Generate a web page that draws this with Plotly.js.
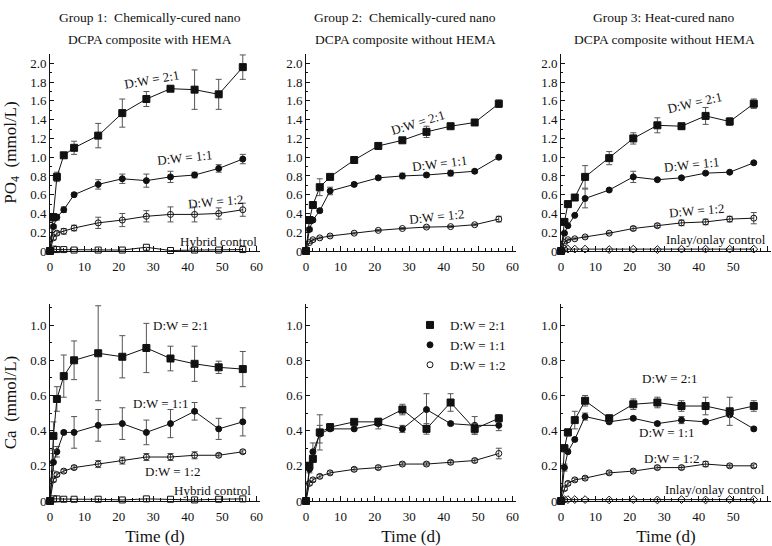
<!DOCTYPE html>
<html>
<head>
<meta charset="utf-8">
<script src="https://cdn.plot.ly/plotly-3.0.1.min.js"></script>
<style>html,body{margin:0;padding:0;background:#fff;}#chart{width:772px;height:546px;}</style>
</head>
<body>
<div id="chart"></div>
<script>
// ---- data ----
const days = [0, 1, 2, 4, 7, 14, 21, 28, 35, 42, 49, 56];

// Group 1 PO4
const g1Po4_21 = [0, 0.36, 0.79, 1.02, 1.10, 1.23, 1.47, 1.62, 1.73, 1.72, 1.67, 1.96];
const g1Po4_21e = [0, 0.04, 0.05, 0.02, 0.07, 0.13, 0.15, 0.08, 0.02, 0.21, 0.16, 0.13];
const g1Po4_11 = [0, 0.26, 0.36, 0.44, 0.60, 0.71, 0.77, 0.75, 0.79, 0.81, 0.88, 0.98];
const g1Po4_11e = [0, 0.02, 0.03, 0.03, 0.02, 0.05, 0.05, 0.07, 0.06, 0.03, 0.04, 0.05];
const g1Po4_12 = [0, 0.14, 0.19, 0.21, 0.245, 0.30, 0.33, 0.37, 0.39, 0.39, 0.40, 0.44];
const g1Po4_12e = [0, 0.02, 0.02, 0.03, 0.03, 0.06, 0.07, 0.06, 0.08, 0.08, 0.06, 0.07];
const g1Po4_ctrl = [0, 0.02, 0.015, 0.015, 0.01, 0.01, 0.01, 0.04, 0.005, 0.01, 0.01, 0.015];

// Group 2 PO4
const g2Po4_21 = [0, 0.33, 0.49, 0.68, 0.79, 0.97, 1.12, 1.18, 1.27, 1.33, 1.37, 1.57];
const g2Po4_21e = [0, 0.03, 0.03, 0.09, 0.02, 0.02, 0.03, 0.02, 0.06, 0.02, 0.02, 0.04];
const g2Po4_11 = [0, 0.23, 0.33, 0.43, 0.64, 0.71, 0.78, 0.80, 0.81, 0.83, 0.85, 1.00];
const g2Po4_11e = [0, 0.02, 0.02, 0.02, 0.04, 0.02, 0.02, 0.03, 0.02, 0.03, 0.02, 0.02];
const g2Po4_12 = [0, 0.09, 0.12, 0.14, 0.16, 0.19, 0.22, 0.24, 0.255, 0.26, 0.28, 0.34];
const g2Po4_12e = [0, 0.01, 0.01, 0.01, 0.01, 0.01, 0.01, 0.01, 0.01, 0.01, 0.01, 0.03];

// Group 3 PO4
const g3Po4_21 = [0, 0.31, 0.50, 0.57, 0.79, 0.99, 1.20, 1.34, 1.33, 1.44, 1.38, 1.57];
const g3Po4_21e = [0, 0.03, 0.03, 0.03, 0.12, 0.07, 0.06, 0.08, 0.03, 0.09, 0.04, 0.05];
const g3Po4_11 = [0, 0.19, 0.27, 0.38, 0.56, 0.65, 0.79, 0.76, 0.78, 0.83, 0.84, 0.94];
const g3Po4_11e = [0, 0.01, 0.01, 0.01, 0.10, 0.01, 0.06, 0.01, 0.01, 0.01, 0.01, 0.01];
const g3Po4_12 = [0, 0.09, 0.12, 0.13, 0.15, 0.19, 0.24, 0.27, 0.30, 0.31, 0.34, 0.35];
const g3Po4_12e = [0, 0.01, 0.01, 0.01, 0.01, 0.01, 0.02, 0.02, 0.03, 0.03, 0.03, 0.06];
const g3Po4_ctrl = [0, 0.02, 0.02, 0.02, 0.02, 0.015, 0.02, 0.015, 0.02, 0.02, 0.02, 0.02];

// Group 1 Ca
const g1Ca_21 = [0, 0.37, 0.58, 0.71, 0.80, 0.84, 0.82, 0.87, 0.81, 0.78, 0.76, 0.75];
const g1Ca_21e = [0, 0.08, 0.07, 0.12, 0.11, 0.27, 0.12, 0.14, 0.07, 0.10, 0.035, 0.10];
const g1Ca_11 = [0, 0.22, 0.28, 0.39, 0.39, 0.43, 0.44, 0.39, 0.44, 0.51, 0.41, 0.45];
const g1Ca_11e = [0, 0.05, 0.03, 0.01, 0.09, 0.09, 0.09, 0.07, 0.08, 0.05, 0.06, 0.08];
const g1Ca_12 = [0, 0.12, 0.15, 0.17, 0.19, 0.21, 0.23, 0.25, 0.25, 0.26, 0.26, 0.28];
const g1Ca_12e = [0, 0.01, 0.01, 0.01, 0.01, 0.02, 0.02, 0.02, 0.02, 0.02, 0.01, 0.01];
const g1Ca_ctrl = [0, 0.012, 0.012, 0.01, 0.01, 0.01, 0.006, 0.012, 0.01, 0.006, 0.01, 0.012];

// Group 2 Ca
const g2Ca_21 = [0, 0.20, 0.24, 0.39, 0.42, 0.45, 0.45, 0.52, 0.41, 0.56, 0.41, 0.47];
const g2Ca_21e = [0, 0.02, 0.02, 0.10, 0.02, 0.01, 0.02, 0.03, 0.03, 0.05, 0.03, 0.02];
const g2Ca_11 = [0, 0.18, 0.28, 0.38, 0.41, 0.41, 0.44, 0.41, 0.52, 0.44, 0.43, 0.43];
const g2Ca_11e = [0, 0.02, 0.05, 0.05, 0.01, 0.01, 0.03, 0.02, 0.09, 0.01, 0.05, 0.03];
const g2Ca_12 = [0, 0.10, 0.12, 0.14, 0.16, 0.18, 0.19, 0.21, 0.21, 0.22, 0.23, 0.27];
const g2Ca_12e = [0, 0.01, 0.01, 0.01, 0.01, 0.01, 0.01, 0.01, 0.01, 0.01, 0.01, 0.03];

// Group 3 Ca
const g3Ca_21 = [0, 0.30, 0.39, 0.46, 0.57, 0.47, 0.55, 0.56, 0.54, 0.54, 0.51, 0.54];
const g3Ca_21e = [0, 0.02, 0.02, 0.05, 0.03, 0.02, 0.03, 0.03, 0.03, 0.05, 0.08, 0.03];
const g3Ca_11 = [0, 0.19, 0.28, 0.35, 0.48, 0.45, 0.47, 0.44, 0.46, 0.45, 0.49, 0.41];
const g3Ca_11e = [0, 0.02, 0.01, 0.01, 0.02, 0.01, 0.01, 0.01, 0.02, 0.01, 0.01, 0.01];
const g3Ca_12 = [0, 0.07, 0.10, 0.12, 0.13, 0.16, 0.17, 0.19, 0.19, 0.21, 0.20, 0.20];
const g3Ca_12e = [0, 0.01, 0.01, 0.01, 0.01, 0.01, 0.01, 0.01, 0.01, 0.015, 0.01, 0.01];
const g3Ca_ctrl = [0, 0.008, 0.008, 0.008, 0.008, 0.006, 0.008, 0.006, 0.008, 0.006, 0.008, 0.008];

// tick labels
const xTickVals = [0, 10, 20, 30, 40, 50, 60];
const xTickText = ['0', '10', '20', '30', '40', '50', '60'];
const po4TickVals = [0, 0.2, 0.4, 0.6, 0.8, 1.0, 1.2, 1.4, 1.6, 1.8, 2.0];
const po4TickText = ['0', '0.2', '0.4', '0.6', '0.8', '1.0', '1.2', '1.4', '1.6', '1.8', '2.0'];
const caTickVals = [0, 0.2, 0.4, 0.6, 0.8, 1.0];
const caTickText = ['0', '0.2', '0.4', '0.6', '0.8', '1.0'];

const groupTitles = [
  ['Group 1:  Chemically-cured nano', 'DCPA composite with HEMA'],
  ['Group 2:  Chemically-cured nano', 'DCPA composite without HEMA'],
  ['Group 3: Heat-cured nano', 'DCPA composite without HEMA']
];
const seriesNames = ['D:W = 2:1', 'D:W = 1:1', 'D:W = 1:2'];

// ---- styles ----
const FONT = 'Liberation Serif, Times New Roman, serif';
const sym = {
  r21: {symbol: 'square', size: 7, color: '#111', line: {color: '#111', width: 1}},
  r11: {symbol: 'circle', size: 6, color: '#111', line: {color: '#111', width: 1}},
  r12: {symbol: 'circle-open', size: 6, color: '#111', line: {color: '#111', width: 1}},
  hyb: {symbol: 'square-open', size: 6, color: '#111', line: {color: '#111', width: 1}},
  inl: {symbol: 'diamond-open', size: 6, color: '#111', line: {color: '#111', width: 1}}
};

function series(y, err, marker, xa, ya, name) {
  const t = {
    x: days, y: y, xaxis: xa, yaxis: ya, name: name || 'series',
    mode: 'lines+markers', type: 'scatter', showlegend: false, cliponaxis: false,
    line: {color: '#111', width: 1}, marker: marker
  };
  if (err) t.error_y = {type: 'data', array: err, visible: true, color: '#555', thickness: 1, width: 3};
  return t;
}

const traces = [
  // top row
  series(g1Po4_ctrl, null, sym.hyb, 'x', 'y', 'Hybrid control'),
  series(g1Po4_12, g1Po4_12e, sym.r12, 'x', 'y', seriesNames[2]),
  series(g1Po4_11, g1Po4_11e, sym.r11, 'x', 'y', seriesNames[1]),
  series(g1Po4_21, g1Po4_21e, sym.r21, 'x', 'y', seriesNames[0]),
  series(g2Po4_12, g2Po4_12e, sym.r12, 'x2', 'y2', seriesNames[2]),
  series(g2Po4_11, g2Po4_11e, sym.r11, 'x2', 'y2', seriesNames[1]),
  series(g2Po4_21, g2Po4_21e, sym.r21, 'x2', 'y2', seriesNames[0]),
  series(g3Po4_ctrl, null, sym.inl, 'x3', 'y3', 'Inlay/onlay control'),
  series(g3Po4_12, g3Po4_12e, sym.r12, 'x3', 'y3', seriesNames[2]),
  series(g3Po4_11, g3Po4_11e, sym.r11, 'x3', 'y3', seriesNames[1]),
  series(g3Po4_21, g3Po4_21e, sym.r21, 'x3', 'y3', seriesNames[0]),
  // bottom row
  series(g1Ca_ctrl, null, sym.hyb, 'x4', 'y4', 'Hybrid control'),
  series(g1Ca_12, g1Ca_12e, sym.r12, 'x4', 'y4', seriesNames[2]),
  series(g1Ca_11, g1Ca_11e, sym.r11, 'x4', 'y4', seriesNames[1]),
  series(g1Ca_21, g1Ca_21e, sym.r21, 'x4', 'y4', seriesNames[0]),
  series(g2Ca_12, g2Ca_12e, sym.r12, 'x5', 'y5', seriesNames[2]),
  series(g2Ca_11, g2Ca_11e, sym.r11, 'x5', 'y5', seriesNames[1]),
  series(g2Ca_21, g2Ca_21e, sym.r21, 'x5', 'y5', seriesNames[0]),
  series(g3Ca_ctrl, null, sym.inl, 'x6', 'y6', 'Inlay/onlay control'),
  series(g3Ca_12, g3Ca_12e, sym.r12, 'x6', 'y6', seriesNames[2]),
  series(g3Ca_11, g3Ca_11e, sym.r11, 'x6', 'y6', seriesNames[1]),
  series(g3Ca_21, g3Ca_21e, sym.r21, 'x6', 'y6', seriesNames[0])
];
// legend-only entries (markers only), shown in the Group 2 Ca panel
[[sym.r21, 0], [sym.r11, 1], [sym.r12, 2]].forEach(function (p) {
  traces.push({x: [null], y: [null], xaxis: 'x5', yaxis: 'y5', type: 'scatter', mode: 'markers',
    name: seriesNames[p[1]], marker: p[0], showlegend: true});
});

// ---- layout ----
const W = 772, H = 546, ML = 50, MR = 1, MT = 54, MB = 45;
const PW = W - ML - MR, PH = H - MT - MB;
function px2x(p) { return (p - ML) / PW; }
function px2y(p) { return (H - MB - p) / PH; }

function xax(dom, anchor, withTitle) {
  const a = {
    domain: dom, anchor: anchor, range: [0, 61], tickvals: xTickVals, ticktext: xTickText,
    ticks: 'inside', ticklen: 5, tickcolor: '#111', showline: true, linecolor: '#111', linewidth: 1,
    showgrid: false, zeroline: false, fixedrange: true, ticklabelstandoff: 3,
    tickfont: {family: FONT, size: 13, color: '#111'},
    minor: {dtick: 2, ticks: 'inside', ticklen: 3, tickcolor: '#111', showgrid: false}
  };
  if (withTitle) a.title = {text: 'Time (d)', font: {family: FONT, size: 17, color: '#111'}, standoff: 8};
  return a;
}
function yax(dom, anchor, range, vals, text, title, minorDt) {
  const a = {
    domain: dom, anchor: anchor, range: range, tickvals: vals, ticktext: text,
    ticks: 'inside', ticklen: 4, tickcolor: '#111', showline: true, linecolor: '#111', linewidth: 1,
    showgrid: false, zeroline: false, fixedrange: true,
    tickfont: {family: FONT, size: 13, color: '#111'},
    minor: {dtick: minorDt, ticks: 'inside', ticklen: 2, tickcolor: '#111', showgrid: false}
  };
  if (title) a.title = {text: title, font: {family: FONT, size: 17, color: '#111'}, standoff: 9};
  return a;
}

const xd1 = [px2x(50), px2x(260)], xd2 = [px2x(306), px2x(516)], xd3 = [px2x(561), px2x(771)];
const ydTop = [px2y(251), px2y(54)], ydBot = [px2y(501), px2y(304)];

const annFont = {family: FONT, size: 13, color: '#111'};
function lab(text, xr, yr, x, y, ang) {
  return {text: text, xref: xr, yref: yr, x: x, y: y, showarrow: false, textangle: ang || 0,
    font: annFont, xanchor: 'center', yanchor: 'middle'};
}
const annotations = [
  lab(seriesNames[0], 'x', 'y', 29.6, 1.83, -10),
  lab(seriesNames[1], 'x', 'y', 39.2, 1.0, -6),
  lab(seriesNames[2], 'x', 'y', 48.2, 0.53, -5),
  lab('Hybrid control', 'x', 'y', 48.8, 0.10, 0),
  lab(seriesNames[0], 'x2', 'y2', 32.5, 1.375, -17),
  lab(seriesNames[1], 'x2', 'y2', 38.9, 0.93, -7),
  lab(seriesNames[2], 'x2', 'y2', 38.0, 0.37, -6),
  lab(seriesNames[0], 'x3', 'y3', 38.9, 1.58, -13),
  lab(seriesNames[1], 'x3', 'y3', 38.0, 0.92, -6),
  lab(seriesNames[2], 'x3', 'y3', 39.5, 0.43, -5),
  lab('Inlay/onlay control', 'x3', 'y3', 45.0, 0.12, 0),
  lab(seriesNames[0], 'x4', 'y4', 37.8, 0.995, 0),
  lab(seriesNames[1], 'x4', 'y4', 32.2, 0.557, 0),
  lab(seriesNames[2], 'x4', 'y4', 35.7, 0.17, 0),
  lab('Hybrid control', 'x4', 'y4', 47.3, 0.057, 0),
  lab(seriesNames[0], 'x6', 'y6', 31.4, 0.694, 0),
  lab(seriesNames[1], 'x6', 'y6', 30.5, 0.387, 0),
  lab(seriesNames[2], 'x6', 'y6', 32.0, 0.239, 0),
  lab('Inlay/onlay control', 'x6', 'y6', 44.6, 0.068, 0)
];
const titleCenters = [150, 405, 664];
groupTitles.forEach(function (g, i) {
  annotations.push({text: g[0], xref: 'paper', yref: 'paper', x: px2x(titleCenters[i]), y: px2y(18),
    showarrow: false, xanchor: 'center', yanchor: 'middle', font: {family: FONT, size: 13.5, color: '#111'}});
  annotations.push({text: g[1], xref: 'paper', yref: 'paper', x: px2x(titleCenters[i]), y: px2y(40),
    showarrow: false, xanchor: 'center', yanchor: 'middle', font: {family: FONT, size: 13.5, color: '#111'}});
});

const layout = {
  width: W, height: H,
  margin: {l: ML, r: MR, t: MT, b: MB, pad: 0},
  paper_bgcolor: '#fff', plot_bgcolor: '#fff',
  font: {family: FONT, color: '#111'},
  showlegend: true,
  legend: {x: px2x(410), y: px2y(310), xanchor: 'left', yanchor: 'top',
    bgcolor: 'rgba(0,0,0,0)', borderwidth: 0, font: {family: FONT, size: 13, color: '#111'},
    tracegroupgap: 0, itemwidth: 30},
  xaxis: xax(xd1, 'y', false),
  xaxis2: xax(xd2, 'y2', false),
  xaxis3: xax(xd3, 'y3', false),
  xaxis4: xax(xd1, 'y4', true),
  xaxis5: xax(xd2, 'y5', true),
  xaxis6: xax(xd3, 'y6', true),
  yaxis: yax(ydTop, 'x', [0, 2.1], po4TickVals, po4TickText, 'PO<sub>4</sub>  (mmol/L)', 0.1),
  yaxis2: yax(ydTop, 'x2', [0, 2.1], po4TickVals, po4TickText, null, 0.1),
  yaxis3: yax(ydTop, 'x3', [0, 2.1], po4TickVals, po4TickText, null, 0.1),
  yaxis4: yax(ydBot, 'x4', [0, 1.12], caTickVals, caTickText, 'Ca  (mmol/L)', 0.1),
  yaxis5: yax(ydBot, 'x5', [0, 1.12], caTickVals, caTickText, null, 0.1),
  yaxis6: yax(ydBot, 'x6', [0, 1.12], caTickVals, caTickText, null, 0.1),
  annotations: annotations
};

Plotly.newPlot('chart', traces, layout, {displayModeBar: false, staticPlot: true});
</script>
</body>
</html>
